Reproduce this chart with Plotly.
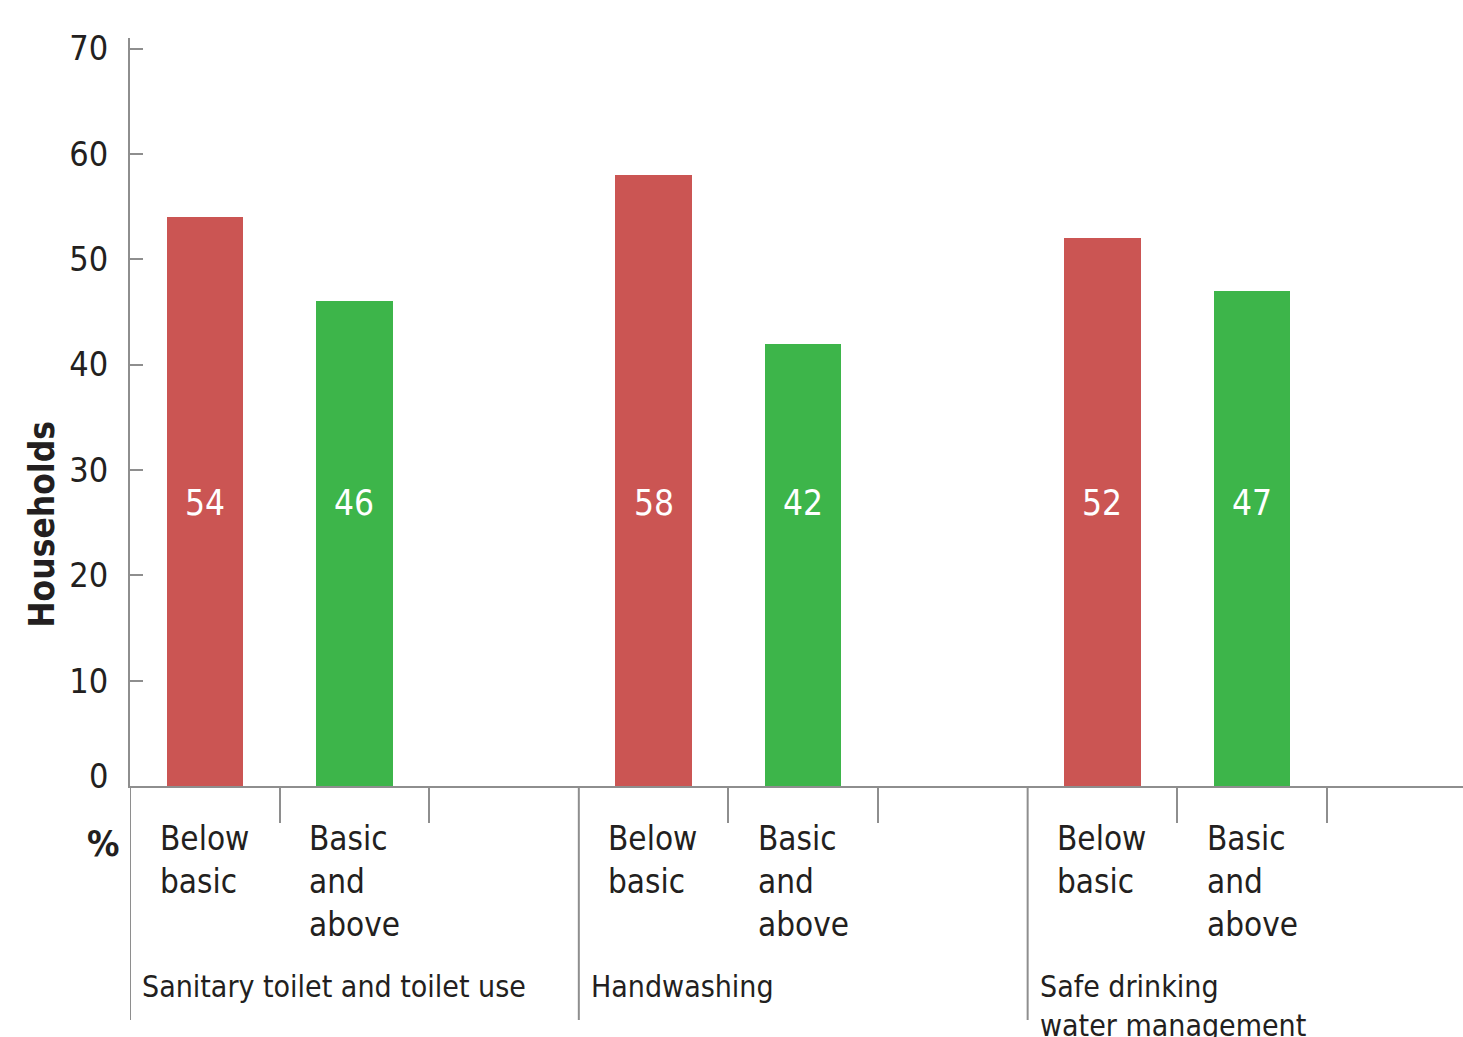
import plotly.graph_objects as go

# ---- data ----
groups = ["Sanitary toilet and toilet use", "Handwashing", "Safe drinking<br>water management"]
levels = ["Below<br>basic", "Basic<br>and<br>above"]
below_basic = [54, 58, 52]
basic_and_above = [46, 42, 47]
y_ticks = [0, 10, 20, 30, 40, 50, 60, 70]

RED = "#CB5553"
GREEN = "#3DB54A"
AXIS = "#8E8E8E"
INK = "#231F20"
FONT = "DejaVu Sans Condensed, DejaVu Sans, sans-serif"

W, H = 1463, 1037
M_L, M_R, M_T, M_B = 130, 0, 38, 251
SLOTS_PER_GROUP = 3          # two bars + one empty slot per group
BAR_W = 0.51
X_MAX = 8.91
Y_MAX = 71
PLOT_H = H - M_T - M_B

def slot_center(g, k):
    return g * SLOTS_PER_GROUP + k + 0.5

x_below = [slot_center(g, 0) for g in range(len(groups))]
x_basic = [slot_center(g, 1) for g in range(len(groups))]

fig = go.Figure()
fig.add_trace(go.Bar(x=x_below, y=below_basic, width=BAR_W, marker=dict(color=RED, line=dict(width=0)),
                     name="Below basic", hoverinfo="y"))
fig.add_trace(go.Bar(x=x_basic, y=basic_and_above, width=BAR_W, marker=dict(color=GREEN, line=dict(width=0)),
                     name="Basic and above", hoverinfo="y"))

annotations = []
# value labels inside the bars, all on one row
label_row = 26.9
for xs, vals in ((x_below, below_basic), (x_basic, basic_and_above)):
    for x, v in zip(xs, vals):
        annotations.append(dict(x=x, y=label_row, xref="x", yref="y", text=str(v), showarrow=False,
                                font=dict(family=FONT, size=35, color="white"),
                                xanchor="center", yanchor="middle"))

# category labels under each bar, starting near the bar's left edge
for xs, lab in ((x_below, levels[0]), (x_basic, levels[1])):
    for x in xs:
        annotations.append(dict(x=x - BAR_W / 2, y=0, xref="x", yref="paper", text=lab, showarrow=False,
                                font=dict(family=FONT, size=33, color=INK), align="left",
                                xanchor="left", yanchor="top", xshift=-9, yshift=-31))

# group labels
for g, name in enumerate(groups):
    annotations.append(dict(x=g * SLOTS_PER_GROUP, y=0, xref="x", yref="paper", text=name,
                            showarrow=False, font=dict(family=FONT, size=30, color=INK), align="left",
                            xanchor="left", yanchor="top", xshift=10, yshift=-181))

# zero tick label raised above the baseline
annotations.append(dict(x=0, y=0, xref="paper", yref="y", text="0", showarrow=False,
                        font=dict(family=FONT, size=34, color=INK), xanchor="right",
                        yanchor="middle", xshift=-20, yshift=10))

# axis title and unit
annotations.append(dict(x=0, y=24.8, xref="paper", yref="y", text="<b>Households</b>", showarrow=False,
                        textangle=-90, font=dict(family=FONT, size=35, color=INK),
                        xanchor="center", yanchor="middle", xshift=-88))
annotations.append(dict(x=0, y=0, xref="paper", yref="paper", text="<b>%</b>", showarrow=False,
                        font=dict(family=FONT, size=36, color=INK),
                        xanchor="center", yanchor="middle", xshift=-27, yshift=-57))

# long group dividers below the axis
shapes = []
div_len = 234 / PLOT_H
for g in range(len(groups)):
    shapes.append(dict(type="line", xref="x", yref="paper", x0=g * SLOTS_PER_GROUP, x1=g * SLOTS_PER_GROUP,
                       y0=0, y1=-div_len, line=dict(color=AXIS, width=2)))

short_ticks = [g * SLOTS_PER_GROUP + k for g in range(len(groups)) for k in (1, 2)]

fig.update_layout(
    width=W, height=H,
    margin=dict(l=M_L, r=M_R, t=M_T, b=M_B, pad=0),
    paper_bgcolor="white", plot_bgcolor="white",
    showlegend=False, bargap=0,
    annotations=annotations, shapes=shapes,
    xaxis=dict(range=[0, X_MAX], showgrid=False, zeroline=False, showline=True, linecolor=AXIS,
               linewidth=2, tickmode="array", tickvals=short_ticks, ticks="outside", ticklen=35,
               tickwidth=2, tickcolor=AXIS, showticklabels=False, fixedrange=True),
    yaxis=dict(range=[0, Y_MAX], showgrid=False, zeroline=False, showline=True, linecolor=AXIS,
               linewidth=2, tickmode="array", tickvals=y_ticks,
               ticktext=["" if t == 0 else str(t) for t in y_ticks],
               ticks="inside", ticklen=13, tickwidth=2, tickcolor=AXIS,
               tickfont=dict(family=FONT, size=34, color=INK), ticklabelstandoff=13, fixedrange=True),
)

fig.write_html("out.html")
